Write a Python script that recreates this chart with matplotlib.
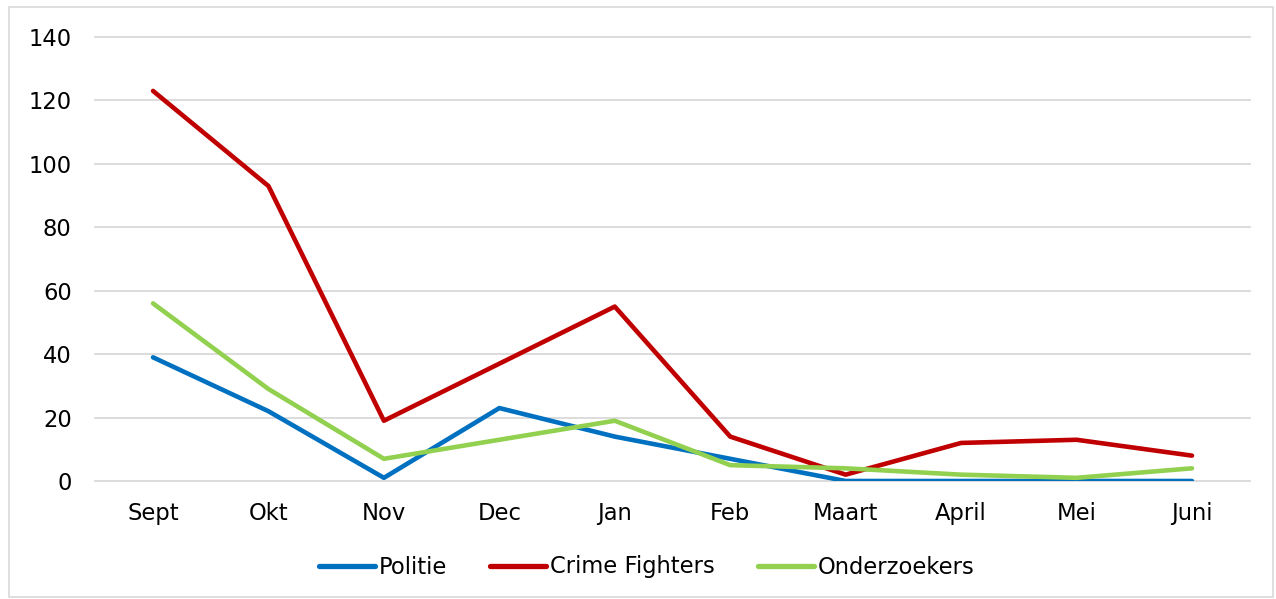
import matplotlib.pyplot as plt
from matplotlib.patches import Rectangle

months = ['Sept', 'Okt', 'Nov', 'Dec', 'Jan', 'Feb', 'Maart', 'April', 'Mei', 'Juni']
politie = [39, 22, 1, 23, 14, 7, 0, 0, 0, 0]
crime_fighters = [123, 93, 19, 37, 55, 14, 2, 12, 13, 8]
onderzoekers = [56, 29, 7, 13, 19, 5, 4, 2, 1, 4]

plt.rcParams['font.family'] = ['Verdana', 'DejaVu Sans']

fig = plt.figure(figsize=(12.76, 5.99), dpi=100)
ax = fig.add_axes([95.3 / 1276, 118 / 599, 1154.4 / 1276, 444 / 599])

x = range(len(months))
ax.plot(x, politie, color='#0070c0', lw=3.3, label='Politie', solid_capstyle='round')
ax.plot(x, crime_fighters, color='#c00000', lw=3.3, label='Crime Fighters', solid_capstyle='round')
ax.plot(x, onderzoekers, color='#92d050', lw=3.3, label='Onderzoekers', solid_capstyle='round')

ax.set_xlim(-0.5, len(months) - 0.5)
ax.set_ylim(0, 140)
ax.set_yticks(range(0, 141, 20))
ax.set_xticks(list(x))
ax.set_xticklabels(months)
ax.grid(axis='y', color='#d9d9d9', lw=1.3)
for gl in ax.get_ygridlines():
    gl.set_clip_on(False)
ax.set_axisbelow(True)
for s in ax.spines.values():
    s.set_visible(False)
ax.tick_params(length=0, labelsize=16.3, colors='#000000')
ax.tick_params(axis='y', pad=17)
ax.tick_params(axis='x', pad=15)

leg = fig.legend(loc='center', bbox_to_anchor=(647 / 1276, 1 - 567 / 599), ncol=3, frameon=False,
                 fontsize=16.3, handlelength=2.45, columnspacing=1.9, handletextpad=0.2)
for h in leg.get_lines():
    h.set_linewidth(3.8)

fig.patches.append(Rectangle((9 / 1276, 2 / 599), 1264 / 1276, 590 / 599, transform=fig.transFigure,
                             fill=False, edgecolor='#d9d9d9', lw=1.2))

fig.savefig('out.png', dpi=100)
